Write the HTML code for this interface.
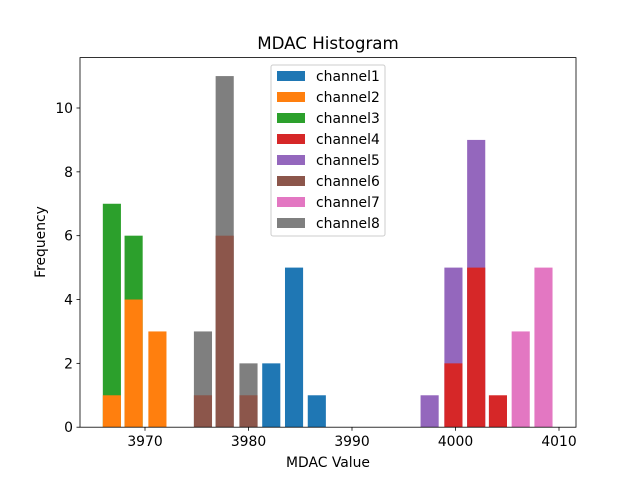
<!DOCTYPE html>
<html><head><meta charset="utf-8"><style>
body{margin:0;background:#fff}
svg text{font-family:"DejaVu Sans","Liberation Sans",sans-serif;fill:#000}
</style></head><body>
<svg id="chart" width="640" height="480" xmlns="http://www.w3.org/2000/svg">
<rect width="640" height="480" fill="#fff"/>
<g id="bars"></g>
<rect x="80" y="57.6" width="496" height="369.6" fill="none" stroke="#000" stroke-width="0.8"/>
<g id="xt"></g>
<g id="yt"></g>
<text x="328" y="49" font-size="16.7" text-anchor="middle">MDAC Histogram</text>
<text x="328" y="467" font-size="13.9" text-anchor="middle">MDAC Value</text>
<text x="45" y="242" font-size="13.9" text-anchor="middle" transform="rotate(-90 45 242)">Frequency</text>
<g id="legend"></g>
</svg>
<script>
const channels=["channel1","channel2","channel3","channel4","channel5","channel6","channel7","channel8"];
const colors=["#1f77b4","#ff7f0e","#2ca02c","#d62728","#9467bd","#8c564b","#e377c2","#7f7f7f"];
const binWidth=1.75;
const ch1Bins=[3982.2,3984.4,3986.6], ch1Counts=[2,5,1];
const ch2Bins=[3966.8,3968.9,3971.2], ch2Counts=[1,4,3];
const ch3Bins=[3966.8,3968.9], ch3Counts=[7,6];
const ch4Bins=[3999.8,4002.0,4004.1], ch4Counts=[2,5,1];
const ch5Bins=[3997.5,3999.8,4002.0], ch5Counts=[1,5,9];
const ch6Bins=[3975.6,3977.7,3980.0], ch6Counts=[1,6,1];
const ch7Bins=[4006.3,4008.5], ch7Counts=[3,5];
const ch8Bins=[3975.6,3977.7,3980.0], ch8Counts=[3,11,2];
const xTicks=[3970,3980,3990,4000,4010];
const yTicks=[0,2,4,6,8,10];
const bins=[ch1Bins,ch2Bins,ch3Bins,ch4Bins,ch5Bins,ch6Bins,ch7Bins,ch8Bins];
const counts=[ch1Counts,ch2Counts,ch3Counts,ch4Counts,ch5Counts,ch6Counts,ch7Counts,ch8Counts];
const NS="http://www.w3.org/2000/svg";
const X=v=>145+(v-3970)*10.35;
const Y=v=>427.2-v*31.92;
function mk(t,a,p){const e=document.createElementNS(NS,t);for(const k in a)e.setAttribute(k,a[k]);p.appendChild(e);return e;}
const gb=document.getElementById('bars');
for(let c=channels.length-1;c>=0;c--){
  bins[c].forEach((b,i)=>{
    const r=mk('rect',{x:X(b-binWidth/2),y:Y(counts[c][i]),width:X(b+binWidth/2)-X(b-binWidth/2),height:Y(0)-Y(counts[c][i]),fill:colors[c]},gb);
    
    
  });
}
const gx=document.getElementById('xt');
xTicks.forEach(t=>{
  mk('line',{x1:X(t),x2:X(t),y1:427.2,y2:430.7,stroke:'#000','stroke-width':0.8},gx);
  const tx=mk('text',{x:X(t),y:446,'font-size':13.9,'text-anchor':'middle'},gx);tx.textContent=t;
  
  
});
const gy=document.getElementById('yt');
yTicks.forEach(t=>{
  mk('line',{x1:76.5,x2:80,y1:Y(t),y2:Y(t),stroke:'#000','stroke-width':0.8},gy);
  const tx=mk('text',{x:73,y:Y(t)+5,'font-size':13.9,'text-anchor':'end'},gy);tx.textContent=t;
  
  
});
const gl=document.getElementById('legend');
mk('rect',{x:271,y:65,width:114,height:171,rx:2,fill:'#fff','fill-opacity':0.8,stroke:'#ccc'},gl);
channels.forEach((n,i)=>{
  const y=76+i*21;
  const g=mk('g',{},gl);
  
  
  mk('rect',{x:277,y:y-5,width:28,height:10,fill:colors[i]},g);
  const t=mk('text',{x:316,y:y+5,'font-size':13.9},g);t.textContent=n;
});
</script>
</body></html>
